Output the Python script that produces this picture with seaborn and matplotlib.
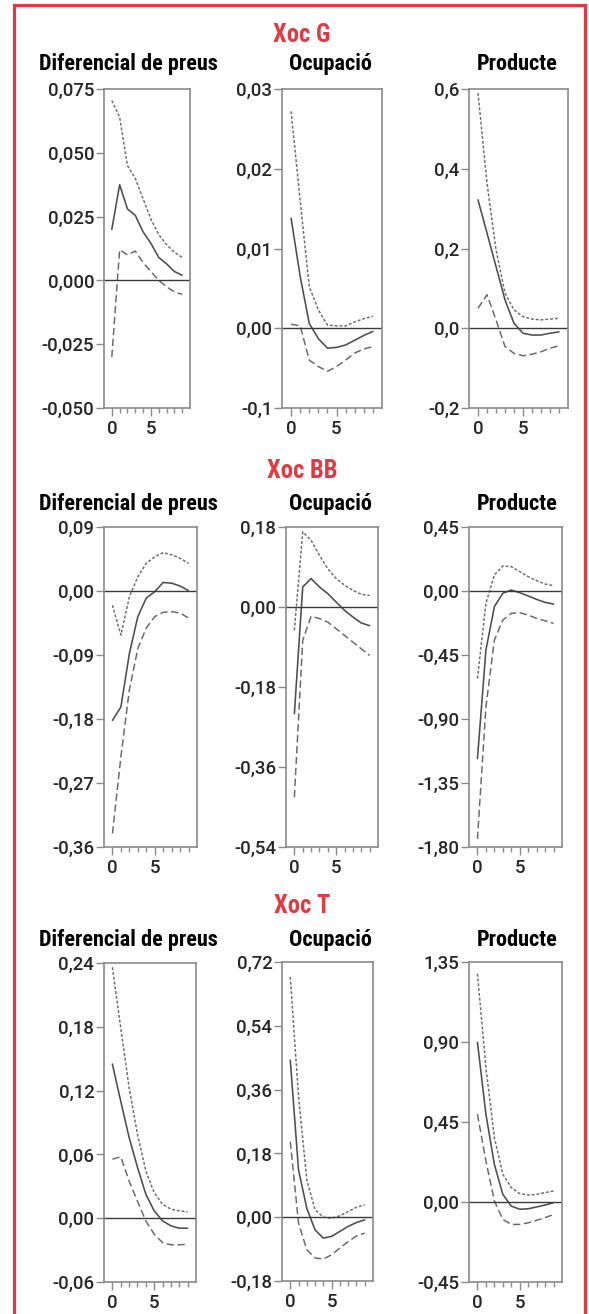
import matplotlib
matplotlib.use("Agg")
import matplotlib.pyplot as plt
import seaborn as sns
from matplotlib import font_manager as fm
from matplotlib.patches import Rectangle
from matplotlib.ticker import FixedLocator

# horitzons (periodes) de les funcions impuls-resposta
steps = list(range(10))

# Xoc G
g_preus_mid = [0.020, 0.0375, 0.028, 0.0255, 0.019, 0.0145, 0.009, 0.0065, 0.0035, 0.002]
g_preus_up = [0.0705, 0.064, 0.045, 0.040, 0.032, 0.024, 0.018, 0.014, 0.011, 0.009]
g_preus_lo = [-0.030, 0.012, 0.010, 0.0115, 0.007, 0.0035, 0.0, -0.0025, -0.0045, -0.0055]

g_ocup_mid = [0.0138, 0.0065, 0.0006, -0.0013, -0.0025, -0.0024, -0.0021, -0.0015, -0.0009, -0.0004]
g_ocup_up = [0.0272, 0.016, 0.0052, 0.0023, 0.0004, 0.0003, 0.0003, 0.0008, 0.0012, 0.0015]
g_ocup_lo = [0.0005, 0.0003, -0.0040, -0.0048, -0.0054, -0.0048, -0.0040, -0.0031, -0.0026, -0.0023]

g_prod_mid = [0.322, 0.239, 0.155, 0.071, 0.0125, -0.0125, -0.017, -0.017, -0.0125, -0.009]
g_prod_up = [0.590, 0.364, 0.197, 0.088, 0.046, 0.029, 0.023, 0.021, 0.023, 0.025]
g_prod_lo = [0.050, 0.084, 0.021, -0.046, -0.063, -0.069, -0.065, -0.059, -0.050, -0.044]

# Xoc BB
bb_preus_mid = [-0.182, -0.163, -0.088, -0.036, -0.010, -0.001, 0.012, 0.011, 0.007, 0.0005]
bb_preus_up = [-0.020, -0.062, -0.008, 0.020, 0.039, 0.048, 0.054, 0.051, 0.046, 0.039]
bb_preus_lo = [-0.341, -0.233, -0.139, -0.081, -0.052, -0.036, -0.030, -0.029, -0.031, -0.038]

bb_ocup_mid = [-0.240, 0.045, 0.064, 0.045, 0.030, 0.011, -0.0075, -0.0225, -0.036, -0.042]
bb_ocup_up = [-0.0525, 0.169, 0.150, 0.116, 0.086, 0.064, 0.049, 0.0375, 0.0285, 0.026]
bb_ocup_lo = [-0.4275, -0.075, -0.021, -0.026, -0.034, -0.049, -0.064, -0.079, -0.094, -0.109]

bb_prod_mid = [-1.179, -0.416, -0.110, -0.016, 0.007, -0.012, -0.035, -0.059, -0.080, -0.092]
bb_prod_up = [-0.615, -0.087, 0.113, 0.176, 0.171, 0.136, 0.101, 0.073, 0.049, 0.038]
bb_prod_lo = [-1.743, -0.815, -0.345, -0.204, -0.157, -0.153, -0.169, -0.193, -0.209, -0.228]

# Xoc T
t_preus_mid = [0.145, 0.110, 0.076, 0.048, 0.0226, 0.0069, -0.0025, -0.0072, -0.0094, -0.0094]
t_preus_up = [0.236, 0.179, 0.123, 0.079, 0.0445, 0.024, 0.013, 0.0085, 0.0069, 0.006]
t_preus_lo = [0.0555, 0.0577, 0.035, 0.016, -0.0025, -0.015, -0.023, -0.025, -0.025, -0.0245]

t_ocup_mid = [0.443, 0.133, 0.025, -0.036, -0.059, -0.054, -0.040, -0.026, -0.015, -0.0075]
t_ocup_up = [0.678, 0.340, 0.105, 0.021, 0.0, -0.003, 0.004, 0.016, 0.028, 0.035]
t_ocup_lo = [0.213, -0.017, -0.092, -0.115, -0.118, -0.106, -0.087, -0.069, -0.053, -0.045]

t_prod_mid = [0.898, 0.494, 0.212, 0.043, -0.023, -0.041, -0.038, -0.028, -0.017, -0.004]
t_prod_up = [1.284, 0.757, 0.363, 0.156, 0.081, 0.047, 0.039, 0.043, 0.053, 0.062]
t_prod_lo = [0.494, 0.231, 0.006, -0.098, -0.126, -0.126, -0.117, -0.103, -0.088, -0.070]

# eixos verticals
g_preus_ticks = [-0.05, -0.025, 0.0, 0.025, 0.05, 0.075]
g_preus_labels = ["-0,050", "-0,025", "0,000", "0,025", "0,050", "0,075"]
g_ocup_ticks = [-0.01, 0.0, 0.01, 0.02, 0.03]
g_ocup_labels = ["-0,1", "0,00", "0,01", "0,02", "0,03"]
g_prod_ticks = [-0.2, 0.0, 0.2, 0.4, 0.6]
g_prod_labels = ["-0,2", "0,0", "0,2", "0,4", "0,6"]

bb_preus_ticks = [-0.36, -0.27, -0.18, -0.09, 0.0, 0.09]
bb_preus_labels = ["-0,36", "-0,27", "-0,18", "-0,09", "0,00", "0,09"]
bb_ocup_ticks = [-0.54, -0.36, -0.18, 0.0, 0.18]
bb_ocup_labels = ["-0,54", "-0,36", "-0,18", "0,00", "0,18"]
bb_prod_ticks = [-1.8, -1.35, -0.9, -0.45, 0.0, 0.45]
bb_prod_labels = ["-1,80", "-1,35", "-0,90", "-0,45", "0,00", "0,45"]

t_preus_ticks = [-0.06, 0.0, 0.06, 0.12, 0.18, 0.24]
t_preus_labels = ["-0,06", "0,00", "0,06", "0,12", "0,18", "0,24"]
t_ocup_ticks = [-0.18, 0.0, 0.18, 0.36, 0.54, 0.72]
t_ocup_labels = ["-0,18", "0,00", "0,18", "0,36", "0,54", "0,72"]
t_prod_ticks = [-0.45, 0.0, 0.45, 0.90, 1.35]
t_prod_labels = ["-0,45", "0,00", "0,45", "0,90", "1,35"]

shocks = ["Xoc G", "Xoc BB", "Xoc T"]
variables = ["Diferencial de preus", "Ocupació", "Producte"]

W, H = 589, 1314
RED = "#e13a40"
TICKFONT = dict(family="Roboto", weight="medium", size=13.4)


def narrow_bold_font():
    # busca una font estreta i negreta (tipus DIN) entre les instal-lades
    prefs = ["liberation sans narrow", "roboto condensed", "open sans condensed", "dejavu sans"]
    found = {}
    for f in fm.fontManager.ttflist:
        fn = f.fname.lower()
        if "italic" in fn or "oblique" in fn:
            continue
        narrow = ("narrow" in fn or "condensed" in fn or str(f.stretch) in ("condensed", "semi-condensed"))
        w = f.weight if isinstance(f.weight, int) else {"bold": 700}.get(str(f.weight), 400)
        if narrow and (w >= 600 or "bold" in fn) and "extra" not in fn and "semi" not in fn:
            found.setdefault(f.name.lower(), f.fname)
    for p in prefs:
        if p in found:
            return fm.FontProperties(fname=found[p])
    if found:
        return fm.FontProperties(fname=list(found.values())[0])
    return fm.FontProperties(family="Liberation Sans", weight="bold")


sns.set_style("ticks")
plt.rcParams['font.family'] = ['Roboto', 'DejaVu Sans']

fig = plt.figure(figsize=(W / 100, H / 100), dpi=100)


def panel(rect, mid, up, lo, ticks, labels):
    left, right, top, bottom = rect
    ax = fig.add_axes([left / W, 1 - bottom / H, (right - left) / W, (bottom - top) / H])
    sns.lineplot(x=steps, y=up, ax=ax, color="#6a6a6a", lw=1.05, linestyle=(0, (2.0, 1.3)), errorbar=None)
    sns.lineplot(x=steps, y=lo, ax=ax, color="#666666", lw=1.05, linestyle=(0, (5, 2.5)), errorbar=None)
    sns.lineplot(x=steps, y=mid, ax=ax, color="#4d4d4d", lw=1.15, errorbar=None)
    ax.axhline(0, color="#3a3a3a", lw=1.0)
    ax.set_xlim(-1, 10)
    ax.set_ylim(ticks[0], ticks[-1])
    ax.set_yticks(ticks)
    ax.set_yticklabels(labels, **TICKFONT)
    ax.set_xticks([0, 5])
    ax.set_xticklabels(["0", "5"], **TICKFONT)
    ax.xaxis.set_minor_locator(FixedLocator(steps))
    ax.tick_params(axis="y", length=5.5, width=1.0, color="#8a8a8a", pad=1.5)
    ax.tick_params(axis="x", which="major", length=5.5, width=1.0, color="#8a8a8a", pad=3.0)
    ax.tick_params(axis="x", which="minor", length=3.5, width=1.0, color="#8a8a8a")
    for sp in ax.spines.values():
        sp.set_visible(True)
        sp.set_color("#8a8a8a")
        sp.set_linewidth(1.2)
    ax.set_xlabel("")
    ax.set_ylabel("")
    return ax


# fila 1: Xoc G
panel((104, 190, 89, 408), g_preus_mid, g_preus_up, g_preus_lo, g_preus_ticks, g_preus_labels)
panel((282, 382, 89, 408), g_ocup_mid, g_ocup_up, g_ocup_lo, g_ocup_ticks, g_ocup_labels)
panel((469, 568, 89, 408), g_prod_mid, g_prod_up, g_prod_lo, g_prod_ticks, g_prod_labels)
# fila 2: Xoc BB
panel((104, 197, 527, 847), bb_preus_mid, bb_preus_up, bb_preus_lo, bb_preus_ticks, bb_preus_labels)
panel((286, 378, 527, 847), bb_ocup_mid, bb_ocup_up, bb_ocup_lo, bb_ocup_ticks, bb_ocup_labels)
panel((469, 562, 527, 847), bb_prod_mid, bb_prod_up, bb_prod_lo, bb_prod_ticks, bb_prod_labels)
# fila 3: Xoc T
panel((104, 196, 963, 1282), t_preus_mid, t_preus_up, t_preus_lo, t_preus_ticks, t_preus_labels)
panel((282, 373, 962, 1281), t_ocup_mid, t_ocup_up, t_ocup_lo, t_ocup_ticks, t_ocup_labels)
panel((469, 562, 962, 1282), t_prod_mid, t_prod_up, t_prod_lo, t_prod_ticks, t_prod_labels)

# mida de lletra: ajustar perque "Diferencial de preus" faci ~180 px d'ample
bold = narrow_bold_font()
renderer = fig.canvas.get_renderer()
probe = fig.text(0, 0, variables[0], fontproperties=bold, fontsize=15.5)
scale = 180 / probe.get_window_extent(renderer).width
probe.remove()
sub_size = min(15.5 * scale, 16.5)
title_size = sub_size * 1.1

# titols
title_base = [42, 478, 913]
sub_base = [70, 510, 946]
sub_x = [128, 330, 517]
for i, shock in enumerate(shocks):
    fig.text(302 / W, 1 - title_base[i] / H, shock, color=RED, fontproperties=bold,
             fontsize=title_size, ha="center", va="baseline")
    for j, var in enumerate(variables):
        fig.text(sub_x[j] / W, 1 - sub_base[i] / H, var, color="black", fontproperties=bold,
                 fontsize=sub_size, ha="center", va="baseline")

# marc vermell
fig.patches.append(Rectangle((14 / W, -0.01), (585 - 14) / W, 1 - 5 / H + 0.01,
                             transform=fig.transFigure, fill=False, edgecolor=RED, lw=2.3))

fig.savefig("out.png", dpi=100)
